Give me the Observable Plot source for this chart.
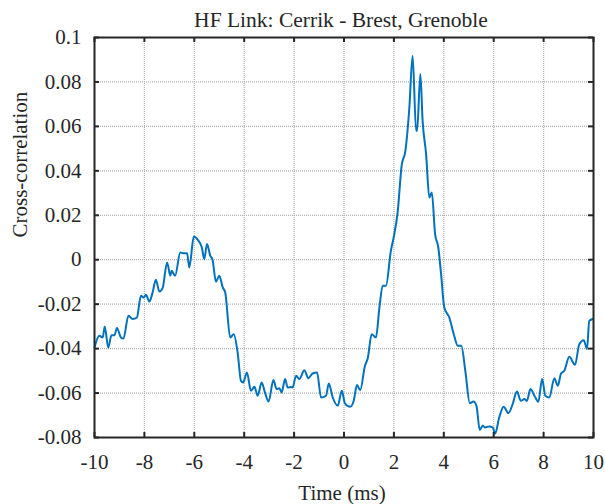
<!DOCTYPE html>
<html>
<head>
<meta charset="utf-8">
<script src="https://cdn.jsdelivr.net/npm/d3@7"></script>
<script src="https://cdn.jsdelivr.net/npm/@observablehq/plot@0.6"></script>
<style>
  html, body { margin: 0; padding: 0; background: #fff; }
</style>
</head>
<body>
<div id="chart"></div>
<script>
const titleText = "HF Link: Cerrik - Brest, Grenoble";
const xLabel = "Time (ms)";
const yLabel = "Cross-correlation";
const xTicks = [-10, -8, -6, -4, -2, 0, 2, 4, 6, 8, 10];
const yTicks = [-0.08, -0.06, -0.04, -0.02, 0, 0.02, 0.04, 0.06, 0.08, 0.1];

const timeMs = [
  -10.0, -9.81, -9.67, -9.59, -9.45, -9.32, -9.20, -9.10, -8.94, -8.84,
  -8.64, -8.47, -8.30, -8.14, -8.03, -7.94, -7.80, -7.67, -7.54, -7.40,
  -7.27, -7.09, -6.96, -6.91, -6.77, -6.56, -6.43, -6.29, -6.20, -6.02,
  -5.86, -5.70, -5.60, -5.49, -5.36, -5.27, -5.13, -5.00, -4.86, -4.76,
  -4.56, -4.42, -4.26, -4.13, -4.04, -3.89, -3.73, -3.59, -3.46, -3.30,
  -3.17, -3.02, -2.83, -2.70, -2.59, -2.50, -2.36, -2.26, -2.12, -2.06,
  -1.92, -1.79, -1.59, -1.43, -1.26, -1.08, -0.92, -0.72, -0.61, -0.45,
  -0.25, -0.09, 0.04, 0.25, 0.39, 0.52, 0.65, 0.84, 0.95, 1.11,
  1.28, 1.42, 1.55, 1.68, 1.88, 1.99, 2.15, 2.31, 2.46, 2.62,
  2.75, 2.89, 2.93, 3.06, 3.15, 3.29, 3.42, 3.52, 3.65, 3.78,
  3.89, 4.02, 4.22, 4.40, 4.56, 4.70, 4.87, 5.04, 5.19, 5.31,
  5.44, 5.56, 5.66, 5.82, 5.96, 6.06, 6.22, 6.40, 6.59, 6.76,
  6.93, 7.09, 7.23, 7.33, 7.47, 7.63, 7.79, 7.94, 8.07, 8.23,
  8.43, 8.57, 8.70, 8.83, 9.03, 9.26, 9.43, 9.61, 9.74, 9.83,
  9.97
];
const xcorr = [
  -0.0395, -0.0342, -0.035, -0.030, -0.0395, -0.034, -0.034, -0.0307, -0.035, -0.0355,
  -0.0252, -0.0267, -0.026, -0.0162, -0.017, -0.0158, -0.0188, -0.0147, -0.009, -0.0143,
  -0.0128, -0.0012, -0.0072, -0.005, -0.0072, 0.0033, 0.0029, 0.0029, -0.0035, 0.0104,
  0.0089, 0.0056, 0.0003, 0.0071, 0.0018, 0.0, -0.0099, -0.0072, -0.0124, -0.0147,
  -0.035, -0.0335, -0.042, -0.0545, -0.0552, -0.0507, -0.059, -0.0572, -0.0612, -0.0552,
  -0.0597, -0.0638, -0.0541, -0.0582, -0.0578, -0.0597, -0.0537, -0.0575, -0.0573, -0.0575,
  -0.0522, -0.0537, -0.0497, -0.0533, -0.0512, -0.0507, -0.062, -0.0612, -0.0557, -0.062,
  -0.0657, -0.059, -0.0647, -0.0662, -0.0635, -0.0564, -0.0587, -0.0477, -0.0445, -0.0335,
  -0.035, -0.0215, -0.0117, -0.0117, 0.0041, 0.010, 0.0213, 0.0423, 0.049, 0.0685,
  0.0918, 0.058, 0.058, 0.0836, 0.0626, 0.0476, 0.028, 0.0303, 0.0116, 0.0055,
  -0.0064, -0.0215, -0.026, -0.0335, -0.0387, -0.0387, -0.0507, -0.0645, -0.0638, -0.0658,
  -0.0766, -0.0747, -0.0755, -0.075, -0.0755, -0.0782, -0.071, -0.0662, -0.069, -0.065,
  -0.0593, -0.0635, -0.0627, -0.0635, -0.0582, -0.0612, -0.0639, -0.0537, -0.0612, -0.062,
  -0.0533, -0.0567, -0.0512, -0.050, -0.0437, -0.0473, -0.038, -0.0362, -0.0402, -0.0275,
  -0.0267
];

const data = timeMs.map((t, i) => ({t, v: xcorr[i]}));

const W = 605, H = 504;
const mL = 94, mR = 12, mT = 37, mB = 67;
const plotW = W - mL - mR, plotH = H - mT - mB;
const tickLen = 5;
const ink = "#262626";
const fmt = d => String(+d.toFixed(2));

const chart = Plot.plot({
  width: W,
  height: H,
  marginLeft: mL,
  marginRight: mR,
  marginTop: mT,
  marginBottom: mB,
  style: {fontFamily: "'Liberation Serif', 'Times New Roman', serif", fontSize: "21px", color: ink, background: "#fff"},
  x: {domain: [-10, 10]},
  y: {domain: [-0.08, 0.1]},
  marks: [
    Plot.gridX(xTicks, {stroke: "#b0b0b0", strokeOpacity: 1, strokeWidth: 1.2, strokeDasharray: "1,1"}),
    Plot.gridY(yTicks, {stroke: "#b0b0b0", strokeOpacity: 1, strokeWidth: 1.2, strokeDasharray: "1,1"}),
    Plot.line(data, {x: "t", y: "v", stroke: "#0072BD", strokeWidth: 2, curve: "monotone-x"}),
    // inward ticks on all four sides
    Plot.tickX(xTicks, {x: d => d, insetTop: plotH - tickLen, stroke: ink, strokeWidth: 2}),
    Plot.tickX(xTicks, {x: d => d, insetBottom: plotH - tickLen, stroke: ink, strokeWidth: 2}),
    Plot.tickY(yTicks, {y: d => d, insetRight: plotW - tickLen, stroke: ink, strokeWidth: 2}),
    Plot.tickY(yTicks, {y: d => d, insetLeft: plotW - tickLen, stroke: ink, strokeWidth: 2}),
    Plot.frame({stroke: ink, strokeWidth: 2}),
    Plot.axisX(xTicks, {tickSize: 0, tickPadding: 17, tickFormat: fmt, label: null, fill: ink}),
    Plot.axisY(yTicks, {tickSize: 0, tickPadding: 13, tickFormat: fmt, label: null, fill: ink}),
    Plot.text([titleText], {frameAnchor: "top", dy: -17, dx: -3, lineAnchor: "middle", fontSize: 21.5, fill: ink}),
    Plot.text([xLabel], {frameAnchor: "bottom", dy: 56, dx: -2, lineAnchor: "middle", fill: ink}),
    Plot.text([yLabel], {frameAnchor: "left", dx: -74.5, rotate: -90, lineAnchor: "middle", fill: ink})
  ]
});
document.getElementById("chart").appendChild(chart);
</script>
</body>
</html>
